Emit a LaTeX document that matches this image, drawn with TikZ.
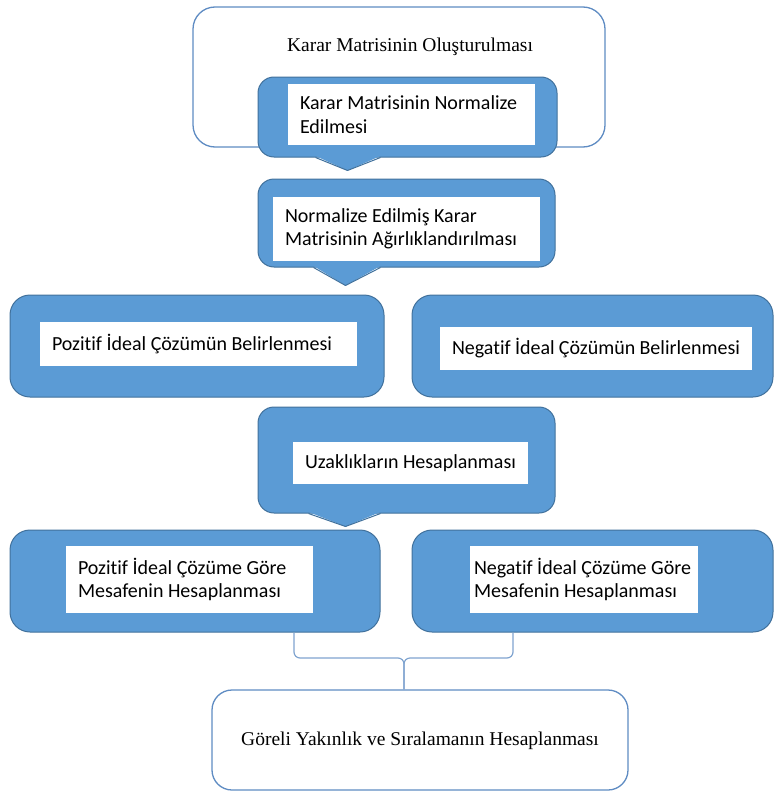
\documentclass[tikz,border=0pt]{standalone}
\usepackage{fontspec}
\setmainfont{Liberation Serif}
\setsansfont{Carlito}[Ligatures={NoCommon}]
\usetikzlibrary{calc}
\definecolor{boxblue}{RGB}{91,155,213}
\definecolor{boxedge}{RGB}{65,113,156}
\definecolor{lineblue}{RGB}{95,140,195}
\begin{document}
\begin{tikzpicture}[x=1pt,y=-1pt,
  bluebox/.style={draw=boxedge,fill=boxblue,line width=1pt,rounded corners=16pt,inner sep=0pt},
  whitebox/.style={fill=white,inner sep=12pt,align=flush left,font=\sffamily\fontsize{20}{23.5}\selectfont},
  framebox/.style={draw=lineblue,fill=white,line width=1.3pt,rounded corners=22pt,inner sep=0pt},
  serifline/.style={font=\fontsize{19.5}{23.5}\selectfont},
  bracket/.style={draw=lineblue!80,line width=1.2pt,rounded corners=6pt}]
\useasboundingbox (0,0) rectangle (774,792);

% The first step
\node[framebox,minimum width=412pt,minimum height=140pt] (T) at (399,77) {};
\node[serifline] (Ttxt) at (410,47) {Karar Matrisinin Oluşturulması};

% The callouts
\node[bluebox,minimum width=299pt,minimum height=80pt] (B1) at (407.5,117) {};
\node[whitebox,minimum width=247pt,minimum height=59pt,text width=223pt] (W1) at (411.5,114.5)
  {Karar Matrisinin Normalize\\Edilmesi};

\node[bluebox,minimum width=297pt,minimum height=88pt] (B2) at (406.5,223) {};
\node[whitebox,minimum width=267pt,minimum height=58pt,text width=243pt] (W2) at (406.5,229)
  {Normalize Edilmiş Karar\\Matrisinin Ağırlıklandırılması};

% The ideal solutions
\node[bluebox,minimum width=374pt,minimum height=102pt,rounded corners=20pt] (L3) at (197,346) {};
\node[whitebox,minimum width=317pt,minimum height=36pt,text width=293pt] (WL3) at (198.5,344)
  {Pozitif İdeal Çözümün Belirlenmesi};
\node[bluebox,minimum width=361pt,minimum height=102pt,rounded corners=20pt] (R3) at (592.5,346) {};
\node[whitebox,minimum width=312pt,minimum height=37pt,text width=288pt] (WR3) at (596,348.5)
  {Negatif İdeal Çözümün Belirlenmesi};

\node[bluebox,minimum width=297pt,minimum height=106pt] (U) at (406.5,460) {};
\node[whitebox,minimum width=235pt,minimum height=36pt,text width=211pt] (WU) at (410.5,463)
  {Uzaklıkların Hesaplanması};

% The distances
\node[bluebox,minimum width=370pt,minimum height=102pt,rounded corners=20pt] (L5) at (195,581) {};
\node[whitebox,minimum width=247pt,minimum height=65pt,text width=223pt] (WL5) at (189.5,579.5)
  {Pozitif İdeal Çözüme Göre\\Mesafenin Hesaplanması};
\node[bluebox,minimum width=361pt,minimum height=102pt,rounded corners=20pt] (R5) at (592.5,581) {};
\node[whitebox,inner xsep=4pt,minimum width=228pt,minimum height=65pt,text width=220pt] (WR5) at (584,579.5)
  {Negatif İdeal Çözüme Göre\\Mesafenin Hesaplanması};

% The pointers
\foreach \b/\l/\r/\t/\h in {B1/-92/-27/-60/13, B2/-93/-26/-61/18, U/-98/-26/-61/13} {
  \fill[boxblue] ($(\b.south)+(\l,-1.5)$) -- ($(\b.south)+(\t,\h)$) -- ($(\b.south)+(\r,-1.5)$) -- cycle;
  \draw[boxedge,line width=1pt,line join=round] ($(\b.south)+(\l,0)$) -- ($(\b.south)+(\t,\h)$) -- ($(\b.south)+(\r,0)$);
}

% The last step
\node[framebox,minimum width=416pt,minimum height=100pt,rounded corners=20pt] (G) at (420,740) {};
\node[serifline] (Gtxt) at (420,741) {Göreli Yakınlık ve Sıralamanın Hesaplanması};

% The bracket
\coordinate (mid) at ([xshift=-16pt]G.north |- 0,658);
\draw[bracket] ([xshift=99pt]L5.south) |- (mid) -- ([xshift=-16pt]G.north);
\draw[bracket] ([xshift=-79.5pt]R5.south) |- (mid) -- ([xshift=-16pt]G.north);
\end{tikzpicture}
\end{document}
